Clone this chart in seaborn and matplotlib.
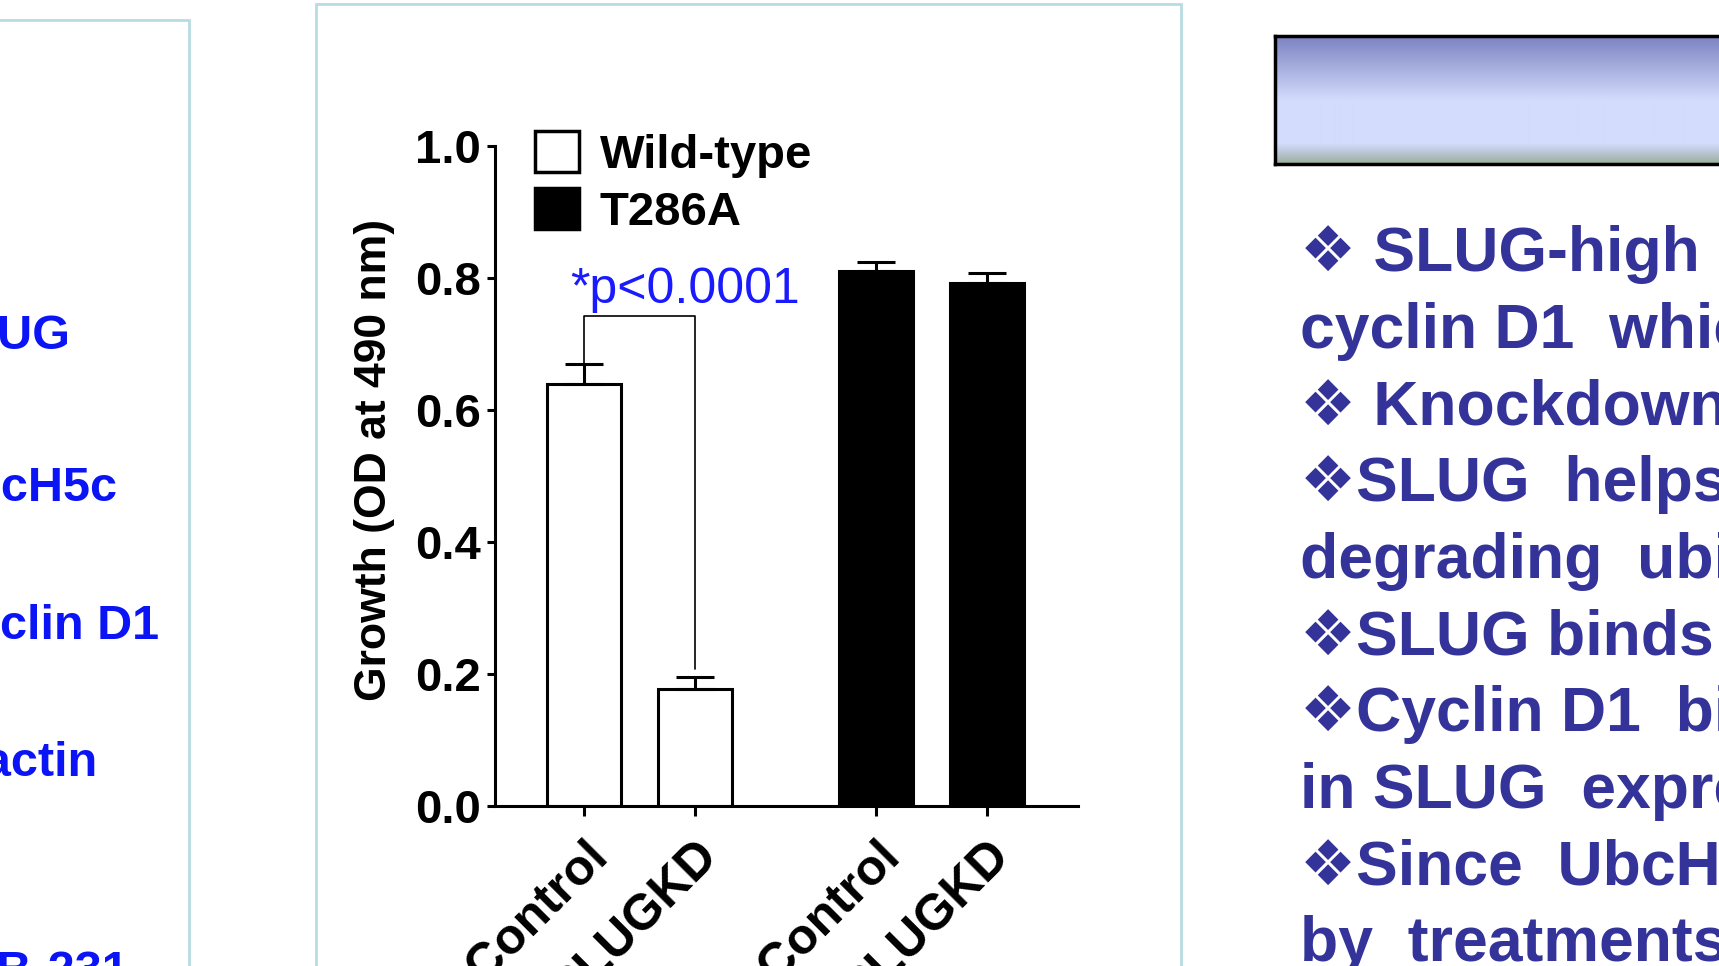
import numpy as np
import pandas as pd
import seaborn as sns
import matplotlib.pyplot as plt
from matplotlib.patches import Patch, Rectangle
from matplotlib.colors import LinearSegmentedColormap
from matplotlib.transforms import ScaledTranslation

# ---------------- datos ----------------
series = ["Wild-type", "T286A"]
grupo = ["Wild-type", "Wild-type", "T286A", "T286A"]
condicion = ["Control", "SLUGKD", "Control", "SLUGKD"]
crecimiento = [0.639, 0.178, 0.810, 0.792]
error_sem = [0.030, 0.018, 0.014, 0.016]
yticks = [0.0, 0.2, 0.4, 0.6, 0.8, 1.0]
p_texto = "*p<0.0001"
bracket_y = [0.671, 0.743, 0.743, 0.207]

texto_izq = ["SLUG", "UbcH5c", "Cyclin D1", "β-actin", "MDA-MB-231"]
texto_der = [
    "❖ SLUG-high cells",
    "cyclin D1  which",
    "❖ Knockdown of",
    "❖SLUG  helps in",
    "degrading  ubiquitin",
    "❖SLUG binds to",
    "❖Cyclin D1  binds",
    "in SLUG  expressing",
    "❖Since  UbcH5c",
    "by  treatments",
]

# ---------------- estilo ----------------
sns.set_style("white")
plt.rcParams["font.family"] = ["Liberation Sans", "DejaVu Sans"]
plt.rcParams["text.color"] = "black"
plt.rcParams["axes.labelcolor"] = "black"
plt.rcParams["xtick.color"] = "black"
plt.rcParams["ytick.color"] = "black"

W, H = 1719, 966
fig = plt.figure(figsize=(W / 100, H / 100), dpi=100)
fig.patch.set_facecolor("white")

# marcos de la diapositiva
borde = "#b7dde2"
fig.add_artist(Rectangle((-0.01, -0.01), 189 / W + 0.01, 1 - 20 / H + 0.01,
                         transform=fig.transFigure, fill=False, edgecolor=borde, lw=2))
fig.add_artist(Rectangle((316 / W, -0.01), (1181 - 316) / W, 1 - 4 / H + 0.01,
                         transform=fig.transFigure, fill=False, edgecolor=borde, lw=2))

# ---------------- gráfico de barras ----------------
ax = fig.add_axes([495 / W, 1 - 806 / H, (1078 - 495) / W, (806 - 146) / H])

gap = 0.63
pos = np.arange(len(crecimiento)) + np.array([0, 0, gap, gap])
df = pd.DataFrame({"x": pos, "y": crecimiento, "grupo": grupo})

sns.barplot(data=df, x="x", y="y", hue="grupo", native_scale=True,
            palette={"Wild-type": "white", "T286A": "black"},
            edgecolor="black", linewidth=2.2, width=0.67, saturation=1,
            errorbar=None, dodge=False, legend=False, ax=ax)

ax.errorbar(pos, crecimiento, yerr=[np.zeros(len(pos)), error_sem], fmt="none",
            ecolor="black", elinewidth=2.2, capsize=14, capthick=2.2, zorder=5)

# corchete de significancia
ax.plot([pos[0], pos[0], pos[1], pos[1]], bracket_y, color="black", lw=1.2)
ax.text(0.91, 0.762, p_texto, color="#1a1aff", fontsize=36, ha="center", va="baseline")

ax.set_xlim(-0.80, 4.45)
ax.set_ylim(0, 1.0)
ax.set_yticks(yticks)
ax.set_yticklabels([f"{t:.1f}" for t in yticks], fontsize=34, fontweight="bold")
ax.set_xticks(pos)
ax.set_xticklabels(condicion, fontsize=36, fontweight="bold", rotation=45,
                   ha="right", va="top", rotation_mode="anchor")
off = ScaledTranslation(1 / 72, 0, fig.dpi_scale_trans)
for lab in ax.get_xticklabels():
    lab.set_transform(lab.get_transform() + off)

ax.tick_params(axis="y", direction="out", length=6, width=2.2, pad=4, left=True)
ax.tick_params(axis="x", direction="out", length=7, width=2.2, pad=12, bottom=True)
for s in ["top", "right"]:
    ax.spines[s].set_visible(False)
for s in ["left", "bottom"]:
    ax.spines[s].set_linewidth(2.2)
    ax.spines[s].set_color("black")

ax.set_xlabel("")
ax.set_ylabel("Growth (OD at 490 nm)", fontsize=32, fontweight="bold")
ax.yaxis.set_label_coords(-0.172, 0.524)

handles = [Patch(facecolor="white", edgecolor="black", lw=2.5, label=series[0]),
           Patch(facecolor="black", edgecolor="black", lw=2.5, label=series[1])]
ax.legend(handles=handles, loc="upper left", bbox_to_anchor=(0.069, 1.022),
          frameon=False, prop={"size": 34, "weight": "bold"},
          handlelength=0.92, handleheight=0.95, handletextpad=0.45,
          labelspacing=0.22, borderpad=0, borderaxespad=0)

# ---------------- texto izquierdo (recortado) ----------------
xs_izq = [71, 117, 159, 98, 129]
ys_izq = [349, 501, 639, 776, 985]
for t, xx, yy in zip(texto_izq, xs_izq, ys_izq):
    fig.text(xx / W, 1 - yy / H, t, color="#0a14f5", fontsize=35, fontweight="bold",
             ha="right", va="baseline")

# ---------------- caja de título ----------------
tax = fig.add_axes([1275 / W, 1 - 164 / H, (W - 1275 + 20) / W, (164 - 36) / H])
cmap = LinearSegmentedColormap.from_list(
    "titulo", [(0, "#7b82c2"), (0.5, "#d3dcfc"), (0.84, "#d3dcfc"),
               (0.9, "#bfc9dc"), (1.0, "#9caf9a")])
tax.imshow(np.linspace(0, 1, 256).reshape(-1, 1), cmap=cmap, aspect="auto",
           extent=[0, 1, 0, 1], origin="upper")
tax.set_xticks([])
tax.set_yticks([])
for s in tax.spines.values():
    s.set_linewidth(2.5)
    s.set_color("black")

# ---------------- texto derecho (recortado) ----------------
for i, t in enumerate(texto_der):
    yy = 271 + i * 76.7
    fig.text(1300 / W, 1 - yy / H, t, color="#333399", fontsize=45, fontweight="bold",
             ha="left", va="baseline")

fig.savefig("out.png", dpi=100)
